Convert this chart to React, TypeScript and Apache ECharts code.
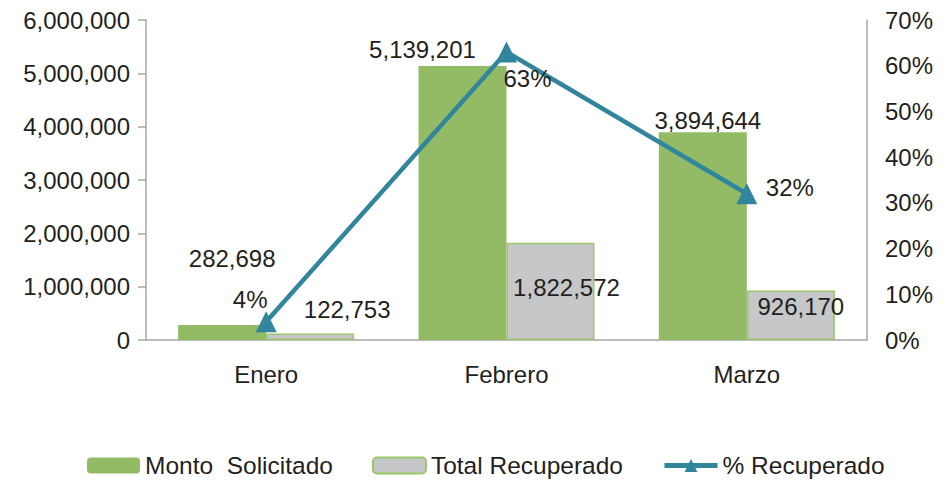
import React, { useEffect, useRef } from "react";
import * as echarts from "echarts";

const categories = ["Enero", "Febrero", "Marzo"];
const montoSolicitado = [282698, 5139201, 3894644];
const totalRecuperado = [122753, 1822572, 926170];
const pctRecuperado = [0.04, 0.63, 0.32];
const leftTicks = { min: 0, max: 6000000, interval: 1000000 };
const rightTicks = { min: 0, max: 0.7, interval: 0.1 };

// label offsets (manual placement as in the reference)
const montoOffsets = [[10, -66], [-40, -16], [5, -12]];
const totalOffsets = [[37, -24], [16, 45], [10, 16]];
const pctOffsets = [[-16, -12], [21, 37], [43, 4]];

const FONT = "'Liberation Sans', Arial, Helvetica, sans-serif";
const TXT = "#231f20";
const AXIS = "#a6a6a6";
const GREEN = "#93bb65";
const GREY = "#c6c7c9";
const BORDER_GREEN = "#9bc66a";
const TEAL = "#31859c";

const fmt = (v: number) => v.toLocaleString("en-US");

export default function App() {
  const ref = useRef<HTMLDivElement>(null);
  useEffect(() => {
    if (!ref.current) return;
    document.body.style.margin = "0";
    const chart = echarts.init(ref.current, null, { renderer: "svg" });
    const labelBase = {
      show: true,
      position: "top",
      distance: 0,
      align: "center",
      verticalAlign: "middle",
      fontFamily: FONT,
      fontSize: 24,
      color: TXT,
    };
    chart.setOption({
      animation: false,
      backgroundColor: "#ffffff",
      textStyle: { fontFamily: FONT },
      grid: { left: 146, right: 79, top: 20, bottom: 140, containLabel: false },
      legend: {
        left: 87,
        top: 453,
        padding: 0,
        itemWidth: 53,
        itemHeight: 16,
        itemGap: 39,
        textStyle: { fontFamily: FONT, fontSize: 24.5, lineHeight: 24, color: TXT },
        data: [
          { name: "Monto  Solicitado" },
          { name: "Total Recuperado" },
          { name: "% Recuperado", lineStyle: { width: 5, color: TEAL } },
        ],
      },
      xAxis: {
        type: "category",
        data: categories,
        axisLine: { lineStyle: { color: AXIS, width: 1.5 } },
        axisTick: { show: false },
        axisLabel: { fontFamily: FONT, fontSize: 24, color: TXT, margin: 22 },
      },
      yAxis: [
        {
          type: "value",
          min: leftTicks.min,
          max: leftTicks.max,
          interval: leftTicks.interval,
          axisLine: { show: true, lineStyle: { color: AXIS, width: 1.5 } },
          axisTick: { show: true, length: 8, lineStyle: { color: AXIS, width: 1.5 } },
          splitLine: { show: false },
          axisLabel: {
            fontFamily: FONT,
            fontSize: 24,
            color: TXT,
            margin: 16,
            formatter: (v: number) => fmt(v),
          },
        },
        {
          type: "value",
          position: "right",
          min: rightTicks.min,
          max: rightTicks.max,
          interval: rightTicks.interval,
          axisLine: { show: true, lineStyle: { color: AXIS, width: 1.5 } },
          axisTick: { show: false },
          splitLine: { show: false },
          axisLabel: {
            fontFamily: FONT,
            fontSize: 24,
            color: TXT,
            margin: 18,
            formatter: (v: number) => `${Math.round(v * 100)}%`,
          },
        },
      ],
      series: [
        {
          name: "Monto  Solicitado",
          type: "bar",
          barWidth: 88,
          barGap: "0%",
          itemStyle: { color: GREEN },
          data: montoSolicitado.map((v, i) => ({
            value: v,
            label: { ...labelBase, offset: montoOffsets[i], formatter: () => fmt(v) },
          })),
        },
        {
          name: "Total Recuperado",
          type: "bar",
          barWidth: 88,
          barGap: "0%",
          itemStyle: { color: GREY, borderColor: BORDER_GREEN, borderWidth: 1.5 },
          data: totalRecuperado.map((v, i) => ({
            value: v,
            label: { ...labelBase, offset: totalOffsets[i], formatter: () => fmt(v) },
          })),
        },
        {
          name: "% Recuperado",
          type: "line",
          yAxisIndex: 1,
          symbol: "triangle",
          symbolSize: 21,
          lineStyle: { color: TEAL, width: 4.5 },
          itemStyle: { color: TEAL },
          z: 5,
          data: pctRecuperado.map((v, i) => ({
            value: v,
            label: {
              ...labelBase,
              offset: pctOffsets[i],
              formatter: () => `${Math.round(v * 100)}%`,
            },
          })),
        },
      ],
    });
    return () => chart.dispose();
  }, []);
  return <div ref={ref} style={{ width: 946, height: 480 }} />;
}
